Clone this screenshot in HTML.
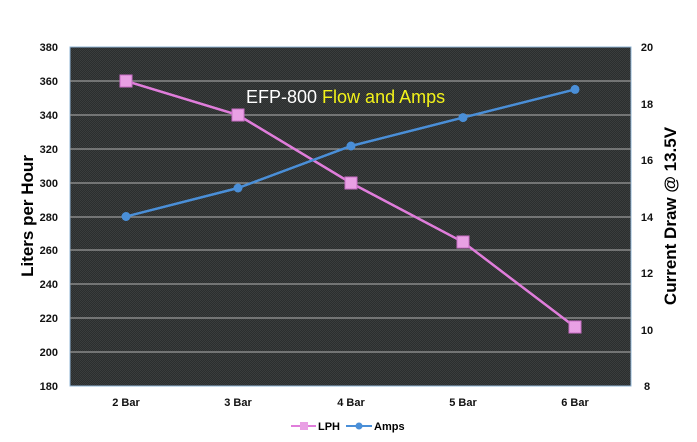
<!DOCTYPE html>
<html><head><style>body{margin:0;background:#fff}svg{display:block}</style></head><body>
<svg width="697" height="442" xmlns="http://www.w3.org/2000/svg" font-family="Liberation Sans, sans-serif">
<defs><pattern id="p" width="2" height="2" patternUnits="userSpaceOnUse"><rect width="2" height="2" fill="#2b2e2e"/><rect width="1" height="1" fill="#3a3d3d"/><rect x="1" y="1" width="1" height="1" fill="#3a3d3d"/></pattern></defs>
<rect x="70" y="47" width="561" height="339" fill="url(#p)" stroke="#8fb4d6" stroke-width="1"/>
<g stroke="#9a9a9a" stroke-width="1.2">
<line x1="70" x2="631" y1="81" y2="81"/><line x1="70" x2="631" y1="115" y2="115"/><line x1="70" x2="631" y1="149" y2="149"/><line x1="70" x2="631" y1="183" y2="183"/><line x1="70" x2="631" y1="217" y2="217"/><line x1="70" x2="631" y1="250" y2="250"/><line x1="70" x2="631" y1="284" y2="284"/><line x1="70" x2="631" y1="318" y2="318"/><line x1="70" x2="631" y1="352" y2="352"/>
</g>
<g font-size="11" font-weight="bold" fill="#111" text-anchor="end">
<text x="58" y="51">380</text><text x="58" y="85">360</text><text x="58" y="119">340</text><text x="58" y="153">320</text><text x="58" y="187">300</text><text x="58" y="221">280</text><text x="58" y="254">260</text><text x="58" y="288">240</text><text x="58" y="322">220</text><text x="58" y="356">200</text><text x="58" y="390">180</text>
</g>
<g font-size="11" font-weight="bold" fill="#111" text-anchor="middle">
<text x="647" y="51">20</text><text x="647" y="108">18</text><text x="647" y="164">16</text><text x="647" y="221">14</text><text x="647" y="277">12</text><text x="647" y="334">10</text><text x="647" y="390">8</text>
<text x="126" y="406">2 Bar</text><text x="238" y="406">3 Bar</text><text x="351" y="406">4 Bar</text><text x="463" y="406">5 Bar</text><text x="575" y="406">6 Bar</text>
</g>
<text transform="translate(33,216) rotate(-90)" font-size="17" font-weight="bold" text-anchor="middle" fill="#000">Liters per Hour</text>
<text transform="translate(676,216) rotate(-90)" font-size="17" font-weight="bold" text-anchor="middle" fill="#000">Current Draw @ 13.5V</text>
<text x="246" y="103" font-size="18"><tspan fill="#fff">EFP-800 </tspan><tspan fill="#f2f21a">Flow and Amps</tspan></text>
<polyline points="126,81 238,115 351,183 463,242 575,327" fill="none" stroke="#e07ddb" stroke-width="2.5"/>
<g fill="#e9a0e4" stroke="#c86cc4"><rect x="120" y="75" width="12" height="12"/><rect x="232" y="109" width="12" height="12"/><rect x="345" y="177" width="12" height="12"/><rect x="457" y="236" width="12" height="12"/><rect x="569" y="321" width="12" height="12"/></g>
<polyline points="126,216.5 238,188 351,146 463,117.6 575,89.4" fill="none" stroke="#4a8fd8" stroke-width="2.5"/>
<g fill="#4a8fd8"><circle cx="126" cy="216.5" r="4.5"/><circle cx="238" cy="188" r="4.5"/><circle cx="351" cy="146" r="4.5"/><circle cx="463" cy="117.6" r="4.5"/><circle cx="575" cy="89.4" r="4.5"/></g>
<line x1="291" x2="316" y1="426" y2="426" stroke="#e07ddb" stroke-width="2"/><rect x="300" y="422" width="8" height="8" fill="#e9a0e4"/>
<text x="318" y="430" font-size="11" font-weight="bold">LPH</text>
<line x1="346" x2="372" y1="426" y2="426" stroke="#4a8fd8" stroke-width="2"/><circle cx="359" cy="426" r="3.5" fill="#4a8fd8"/>
<text x="374" y="430" font-size="11" font-weight="bold">Amps</text>
</svg>
</body></html>
